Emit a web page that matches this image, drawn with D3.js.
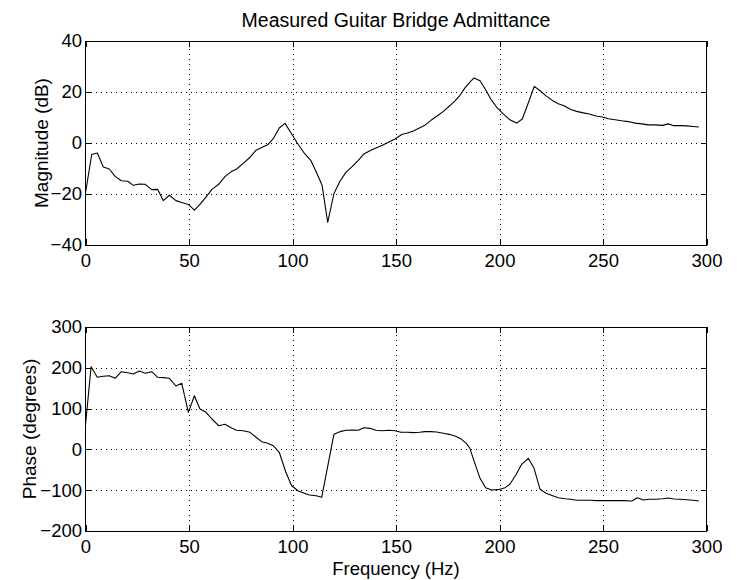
<!DOCTYPE html>
<html>
<head>
<meta charset="utf-8">
<script src="https://cdn.jsdelivr.net/npm/d3@7"></script>
<style>
  html, body { margin: 0; padding: 0; background: #fff; }
  svg { display: block; }
  text { font-family: "Liberation Sans", Arial, Helvetica, sans-serif; fill: #000; }
</style>
</head>
<body>
<svg id="chart" width="737" height="580"></svg>
<script>
// ---- Data ----
const chartTitle = "Measured Guitar Bridge Admittance";
const xLabel = "Frequency (Hz)";
const magLabel = "Magnitude (dB)";
const phaseLabel = "Phase (degrees)";

const xTicks = [0, 50, 100, 150, 200, 250, 300];
const magTicks = [-40, -20, 0, 20, 40];
const phaseTicks = [-200, -100, 0, 100, 200, 300];

const magFreq = [0, 3, 5.7, 8.6, 11.5, 14.3, 17.3, 20.4, 23.1, 26, 28.9, 32, 34.9, 37.6, 40.5, 43.7, 46.5, 49.7, 52.6, 55.3, 58.2, 61.1, 64.3, 67.4, 70.3, 73, 76.2, 79.5, 82.4, 85.6, 88, 90.7, 93.6, 96.4, 99.6, 102.3, 105.6, 108.8, 111.7, 114.3, 117, 120, 122.9, 125.8, 128.9, 131.8, 134.5, 137.4, 140.3, 143.4, 146.6, 149.5, 152.8, 155.5, 158.4, 161.3, 164, 166.9, 170, 172.9, 175.7, 178.5, 180.9, 183.3, 185.7, 187.7, 190.6, 193.3, 196.2, 198.6, 201.8, 205, 208.3, 211, 213.9, 216.8, 219.6, 222.5, 225.7, 228.4, 231.2, 234.4, 237.3, 240.5, 243.4, 246.6, 249.7, 252.6, 255.8, 259, 262.2, 265.5, 268.7, 271.9, 275.1, 278.8, 281.5, 284.3, 287.2, 290.4, 293.6, 296.3];
const magDb = [-19.6, -4.5, -3.9, -9.4, -10.2, -13.1, -14.8, -15, -16.6, -16.1, -16.2, -18.3, -18.2, -22.6, -20.5, -22.6, -23.3, -24.1, -26.3, -24.1, -21.2, -18.2, -16.2, -13.2, -11.3, -10.2, -8, -5.6, -2.8, -1.6, -0.7, 1.7, 5.9, 7.7, 3.5, 0, -3.9, -6.8, -11.8, -16.6, -31.1, -19.9, -15, -11.5, -9.2, -6.8, -4.3, -3, -2, -0.9, 0.4, 1.6, 3.3, 3.9, 4.7, 5.9, 7, 8.9, 10.7, 12.4, 14.4, 16.5, 18.7, 21.6, 23.9, 25.5, 24.4, 20.9, 16.7, 14.1, 11.4, 9.1, 7.8, 9.4, 15.7, 22.2, 20.5, 18.5, 16.6, 15.4, 14.6, 13.1, 12.4, 11.8, 11.4, 10.6, 10.2, 9.5, 9.1, 8.7, 8.4, 7.8, 7.5, 7.1, 7.1, 6.9, 7.5, 6.8, 6.8, 6.7, 6.5, 6.3];

const phaseFreq = [0, 2.7, 5.7, 8.6, 11.5, 14.3, 17.3, 20.4, 23.1, 26, 28.9, 32, 34.9, 37.6, 40.5, 43.7, 46.5, 49.7, 52.6, 55.3, 58.2, 61.1, 64.3, 67.4, 70.3, 73, 76.2, 79.5, 82.4, 85.1, 88, 90.7, 93.6, 96.7, 99.6, 102.8, 108.1, 111.4, 114.1, 120, 122.9, 125.8, 128.9, 131.8, 134.5, 137.4, 140.3, 143.4, 146.6, 149.5, 152.4, 155.5, 158.4, 161.3, 164, 166.9, 169.6, 172.9, 175.7, 178.8, 181.7, 184.1, 185.7, 187.8, 190.6, 193.3, 196.2, 199.4, 202.7, 205, 207.9, 210.7, 213.9, 216.7, 219.6, 222.5, 225.7, 228.4, 231.7, 234.4, 237.3, 240.5, 243.7, 246.9, 250.1, 253.4, 256.6, 259.8, 263.9, 266.6, 269.5, 272.4, 275.6, 278.8, 281.5, 284.3, 287.2, 290.4, 293.6, 296.3];
const phaseDeg = [59.8, 202.7, 176.7, 179.2, 180.6, 174.3, 190.4, 188, 184.8, 192.2, 186.5, 190.4, 176.7, 176, 174.3, 155.4, 162, 90.9, 131.6, 99, 90.9, 74.5, 58.1, 61.5, 53.2, 46.8, 45.8, 41.9, 29.7, 18.9, 15, 9.1, -7.1, -54.7, -89, -102, -111.8, -113.5, -117.5, 36.9, 43.5, 46.8, 47.6, 46.8, 53.2, 51.6, 46.8, 45.8, 46.8, 45.8, 41.9, 41.9, 41, 41.9, 43.5, 43.5, 42.7, 39.4, 36.9, 32, 24.6, 14, 2.7, -30.1, -70.9, -93.8, -99.5, -98.7, -93.8, -85.6, -62.7, -36.5, -21.9, -46.3, -97.8, -107.6, -113.5, -118.4, -120.8, -122.3, -124.8, -124.8, -124.8, -125.6, -125.6, -125.6, -125.6, -125.6, -126.5, -118.4, -124, -122.3, -122.3, -120.8, -119.1, -121.6, -122.3, -123.3, -124.8, -126.5];

// ---- Layout ----
const svg = d3.select("#chart");
const X0 = 85.5, X1 = 706.5;
const tickFont = 18.5;
const panels = [
  { top: 41, bottom: 245, domain: [-40, 40], ticks: magTicks, xs: magFreq, ys: magDb, label: magLabel, labelX: 48 },
  { top: 327, bottom: 531, domain: [-200, 300], ticks: phaseTicks, xs: phaseFreq, ys: phaseDeg, label: phaseLabel, labelX: 36 }
];

const x = d3.scaleLinear().domain([0, 300]).range([X0, X1]);

panels.forEach(p => {
  const y = d3.scaleLinear().domain(p.domain).range([p.bottom, p.top]);
  const h = p.bottom - p.top, w = X1 - X0;
  const g = svg.append("g");

  // grid
  const gridX = g.append("g").attr("transform", `translate(0,${p.bottom})`)
    .call(d3.axisBottom(x).tickValues(xTicks.slice(1, -1)).tickSize(-h).tickFormat(""));
  const gridY = g.append("g").attr("transform", `translate(${X0},0)`)
    .call(d3.axisLeft(y).tickValues(p.ticks.slice(1, -1)).tickSize(-w).tickFormat(""));
  [gridX, gridY].forEach(gg => {
    gg.select(".domain").remove();
    gg.selectAll(".tick line").attr("stroke", "#000").attr("stroke-width", 1)
      .attr("stroke-dasharray", "1,4").attr("shape-rendering", "crispEdges");
  });

  // line
  const data = p.xs.map((f, i) => [f, p.ys[i]]);
  g.append("path").datum(data)
    .attr("fill", "none").attr("stroke", "#000").attr("stroke-width", 1.1)
    .attr("stroke-linejoin", "round")
    .attr("d", d3.line().x(d => x(d[0])).y(d => y(d[1])));

  // axes with inward ticks
  const tl = 6;
  const axB = g.append("g").attr("transform", `translate(0,${p.bottom})`)
    .call(d3.axisBottom(x).tickValues(xTicks).tickSizeInner(-tl).tickSizeOuter(0).tickPadding(9));
  const axT = g.append("g").attr("transform", `translate(0,${p.top})`)
    .call(d3.axisTop(x).tickValues(xTicks).tickSizeInner(-tl).tickSizeOuter(0).tickFormat(""));
  const axL = g.append("g").attr("transform", `translate(${X0},0)`)
    .call(d3.axisLeft(y).tickValues(p.ticks).tickSizeInner(-tl).tickSizeOuter(0).tickPadding(3.5));
  const axR = g.append("g").attr("transform", `translate(${X1},0)`)
    .call(d3.axisRight(y).tickValues(p.ticks).tickSizeInner(-tl).tickSizeOuter(0).tickFormat(""));
  [axB, axT, axL, axR].forEach(a => {
    a.select(".domain").remove();
    a.selectAll(".tick line").attr("stroke", "#000").attr("shape-rendering", "crispEdges");
    a.selectAll(".tick text").attr("fill", "#000")
      .style("font-family", '"Liberation Sans", Arial, Helvetica, sans-serif')
      .style("font-size", tickFont + "px");
  });

  // box
  g.append("rect").attr("x", X0).attr("y", p.top).attr("width", w).attr("height", h)
    .attr("fill", "none").attr("stroke", "#000").attr("stroke-width", 1)
    .attr("shape-rendering", "crispEdges");

  // y label
  g.append("text")
    .attr("transform", `translate(${p.labelX},${(p.top + p.bottom) / 2}) rotate(-90)`)
    .attr("text-anchor", "middle").style("font-size", "19px")
    .text(p.label);
});

// title and x label
svg.append("text").attr("x", (X0 + X1) / 2).attr("y", 27)
  .attr("text-anchor", "middle").style("font-size", "19.5px").text(chartTitle);
svg.append("text").attr("x", (X0 + X1) / 2).attr("y", 575)
  .attr("text-anchor", "middle").style("font-size", "18.5px").text(xLabel);
</script>
</body>
</html>
